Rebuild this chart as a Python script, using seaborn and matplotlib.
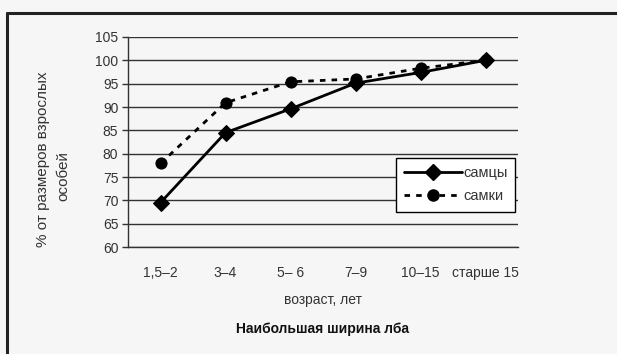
import matplotlib
matplotlib.use("Agg")
import matplotlib.pyplot as plt
import seaborn as sns
import pandas as pd
from matplotlib.lines import Line2D

# Age groups and relative forehead width (% of adult size)
ages = ["1,5\u20132", "3\u20134", "5\u2013 6", "7\u20139", "10\u201315", "старше 15"]
males = [69.5, 84.5, 89.6, 95.1, 97.4, 100.0]
females = [77.9, 90.9, 95.4, 96.0, 98.3, 100.0]
series_names = ["самцы", "самки"]
y_ticks = [60, 65, 70, 75, 80, 85, 90, 95, 100, 105]

df = pd.DataFrame({
    "age": ages * 2,
    "value": males + females,
    "sex": [series_names[0]] * len(ages) + [series_names[1]] * len(ages),
})

sns.set_theme(style="white")
plt.rcParams["font.family"] = ["Liberation Sans", "DejaVu Sans"]

bg = "#f6f6f6"
fig = plt.figure(figsize=(6.17, 3.54), dpi=100, facecolor=bg)
ax = fig.add_axes([128 / 617, 1 - 247 / 354, 390 / 617, 210 / 354])
ax.set_facecolor(bg)

sns.lineplot(
    data=df, x="age", y="value", hue="sex", style="sex", sort=False,
    palette={series_names[0]: "black", series_names[1]: "black"},
    dashes={series_names[0]: "", series_names[1]: (2, 2.2)},
    markers={series_names[0]: "D", series_names[1]: "o"},
    markersize=8, linewidth=2.0, markeredgecolor="black",
    legend=False, ax=ax,
)

ax.set_ylim(60, 105)
ax.set_xlim(-0.5, len(ages) - 0.5)
ax.set_yticks(y_ticks)
ax.set_yticklabels([str(v) for v in y_ticks], fontsize=10, color="#333333")
ax.set_xticks(range(len(ages)))
ax.set_xticklabels(ages, fontsize=10, color="#333333")
ax.set_xticks([i - 0.5 for i in range(len(ages) + 1)], minor=True)
ax.tick_params(axis="x", which="major", length=0, pad=14)
ax.tick_params(axis="x", which="minor", length=4, width=1, color="#333333", direction="out")
ax.tick_params(axis="y", length=4, width=1, color="#333333", direction="out", left=True, pad=3)

ax.grid(axis="y", color="#333333", linewidth=1.0)
ax.grid(axis="x", visible=False)
ax.set_axisbelow(True)
for side in ["top", "right"]:
    ax.spines[side].set_visible(False)
for side in ["left", "bottom"]:
    ax.spines[side].set_color("#333333")
    ax.spines[side].set_linewidth(1.0)

ax.set_xlabel("возраст, лет", fontsize=10, color="#333333", labelpad=9)
ax.set_ylabel("")

# Two-line vertical axis title
fig.text(43 / 617, 1 - 159 / 354, "% от размеров взрослых", rotation=90,
         ha="center", va="center", fontsize=11, color="#333333")
fig.text(63 / 617, 1 - 176 / 354, "особей", rotation=90,
         ha="center", va="center", fontsize=11, color="#333333")

handles = [
    Line2D([], [], color="black", linewidth=2.0, marker="D", markersize=8),
    Line2D([], [], color="black", linewidth=2.0, linestyle=(0, (2, 2.2)), marker="o", markersize=8),
]
leg = ax.legend(handles, series_names, loc="upper left",
                bbox_to_anchor=((396 - 128) / 390, (247 - 158) / 210),
                frameon=True, fancybox=False, fontsize=10.5, handlelength=4.0,
                handletextpad=0.05, borderpad=0.55, labelspacing=0.65,
                borderaxespad=0)
leg.get_frame().set_edgecolor("black")
leg.get_frame().set_linewidth(1.0)
leg.get_frame().set_facecolor("white")
leg.get_frame().set_alpha(1)
for t in leg.get_texts():
    t.set_color("#333333")

fig.text(0.5 * (128 + 518) / 617, 1 - 329 / 354, "Наибольшая ширина лба",
         ha="center", va="center", fontsize=10, fontweight="bold", color="#111111")

# Frame lines along the top and left edge of the figure
fig.add_artist(Line2D([7 / 617, 1], [1 - 12.5 / 354] * 2, color="#222222", linewidth=2.2,
                      transform=fig.transFigure))
fig.add_artist(Line2D([7 / 617] * 2, [0, 1 - 12.5 / 354], color="#222222", linewidth=2.2,
                      transform=fig.transFigure))

fig.savefig("out.png", dpi=100, facecolor=bg)
